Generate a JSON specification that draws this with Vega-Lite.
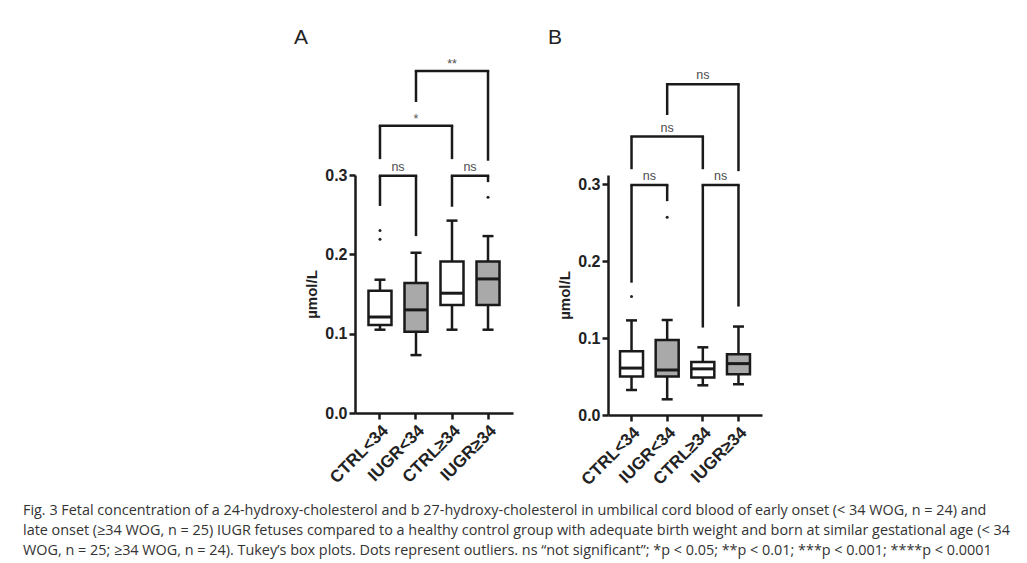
{
  "$schema": "https://vega.github.io/schema/vega-lite/v6.json",
  "padding": {"left": 23, "top": 27, "right": 5, "bottom": 2},
  "background": "white",
  "datasets": {
    "boxes": [
      {"panel": "A", "group": "CTRL<34", "type": "CTRL", "lower": 0.105, "q1": 0.111, "median": 0.121, "q3": 0.154, "upper": 0.168},
      {"panel": "A", "group": "IUGR<34", "type": "IUGR", "lower": 0.073, "q1": 0.1025, "median": 0.130, "q3": 0.164, "upper": 0.202},
      {"panel": "A", "group": "CTRL≥34", "type": "CTRL", "lower": 0.105, "q1": 0.136, "median": 0.151, "q3": 0.191, "upper": 0.2425},
      {"panel": "A", "group": "IUGR≥34", "type": "IUGR", "lower": 0.105, "q1": 0.136, "median": 0.169, "q3": 0.191, "upper": 0.223},
      {"panel": "B", "group": "CTRL<34", "type": "CTRL", "lower": 0.0325, "q1": 0.050, "median": 0.061, "q3": 0.083, "upper": 0.123},
      {"panel": "B", "group": "IUGR<34", "type": "IUGR", "lower": 0.0204, "q1": 0.050, "median": 0.0585, "q3": 0.0975, "upper": 0.1235},
      {"panel": "B", "group": "CTRL≥34", "type": "CTRL", "lower": 0.0386, "q1": 0.0486, "median": 0.060, "q3": 0.069, "upper": 0.088},
      {"panel": "B", "group": "IUGR≥34", "type": "IUGR", "lower": 0.040, "q1": 0.053, "median": 0.0668, "q3": 0.079, "upper": 0.115}
    ],
    "outliers": [
      {"panel": "A", "group": "CTRL<34", "value": 0.230},
      {"panel": "A", "group": "CTRL<34", "value": 0.219},
      {"panel": "A", "group": "IUGR≥34", "value": 0.272},
      {"panel": "B", "group": "CTRL<34", "value": 0.154},
      {"panel": "B", "group": "IUGR<34", "value": 0.257}
    ],
    "brackets": [
      {"panel": "A", "from": "CTRL<34", "to": "IUGR<34", "top": 0.299, "leftEnd": 0.261, "rightEnd": 0.223, "label": "ns", "mid": null},
      {"panel": "A", "from": "CTRL≥34", "to": "IUGR≥34", "top": 0.299, "leftEnd": 0.260, "rightEnd": 0.291, "label": "ns", "mid": null},
      {"panel": "A", "from": "CTRL<34", "to": "CTRL≥34", "top": 0.362, "leftEnd": 0.320, "rightEnd": 0.320, "label": "*", "mid": "IUGR<34"},
      {"panel": "A", "from": "IUGR<34", "to": "IUGR≥34", "top": 0.431, "leftEnd": 0.392, "rightEnd": 0.318, "label": "**", "mid": "CTRL≥34"},
      {"panel": "B", "from": "CTRL<34", "to": "IUGR<34", "top": 0.299, "leftEnd": 0.172, "rightEnd": 0.278, "label": "ns", "mid": null},
      {"panel": "B", "from": "CTRL≥34", "to": "IUGR≥34", "top": 0.299, "leftEnd": 0.1137, "rightEnd": 0.141, "label": "ns", "mid": null},
      {"panel": "B", "from": "CTRL<34", "to": "CTRL≥34", "top": 0.362, "leftEnd": 0.3195, "rightEnd": 0.3195, "label": "ns", "mid": "IUGR<34"},
      {"panel": "B", "from": "IUGR<34", "to": "IUGR≥34", "top": 0.430, "leftEnd": 0.390, "rightEnd": 0.317, "label": "ns", "mid": "CTRL≥34"}
    ]
  },
  "title": {
    "text": [
      "Fig. 3 Fetal concentration of a 24-hydroxy-cholesterol and b 27-hydroxy-cholesterol in umbilical cord blood of early onset (< 34 WOG, n = 24) and",
      "late onset (≥34 WOG, n = 25) IUGR fetuses compared to a healthy control group with adequate birth weight and born at similar gestational age (< 34",
      "WOG, n = 25; ≥34 WOG, n = 24). Tukey’s box plots. Dots represent outliers. ns “not significant”; *p < 0.05; **p < 0.01; ***p < 0.001; ****p < 0.0001"
    ],
    "orient": "bottom",
    "anchor": "start",
    "frame": "bounds",
    "dx": -271,
    "offset": 16,
    "font": "Open Sans",
    "fontSize": 14.4,
    "fontWeight": "normal",
    "lineHeight": 20,
    "color": "#333333"
  },
  "spacing": 35,
  "hconcat": [
    {
      "width": 158,
      "height": 238,
      "title": {"text": "A", "anchor": "start", "frame": "group", "dx": -61, "offset": 10},
      "layer": [
        {
          "data": {"name": "boxes"},
          "transform": [{"filter": "datum.panel === 'A'"}],
          "mark": {"type": "rule", "color": "#1a1a1a", "strokeWidth": 2.5},
          "encoding": {
            "x": {"field": "group", "type": "nominal", "title": null, "scale": {"type": "band", "domain": ["CTRL<34", "IUGR<34", "CTRL≥34", "IUGR≥34"], "paddingInner": 0, "paddingOuter": 0.194}},
            "y": {"field": "lower", "type": "quantitative", "title": "µmol/L", "scale": {"domain": [0, 0.3], "nice": false}, "axis": {"values": [0, 0.1, 0.2, 0.3], "format": ".1f"}},
            "y2": {"field": "upper"}
          }
        },
        {
          "data": {"name": "boxes"},
          "transform": [{"filter": "datum.panel === 'A'"}, {"fold": ["lower", "upper"], "as": ["end", "cap"]}],
          "mark": {"type": "tick", "color": "#1a1a1a", "opacity": 1, "size": 11, "thickness": 2.5},
          "encoding": {
            "x": {"field": "group", "type": "nominal", "title": null, "scale": {"type": "band", "domain": ["CTRL<34", "IUGR<34", "CTRL≥34", "IUGR≥34"], "paddingInner": 0, "paddingOuter": 0.194}},
            "y": {"field": "cap", "type": "quantitative", "title": "µmol/L", "scale": {"domain": [0, 0.3], "nice": false}, "axis": {"values": [0, 0.1, 0.2, 0.3], "format": ".1f"}}
          }
        },
        {
          "data": {"name": "boxes"},
          "transform": [{"filter": "datum.panel === 'A'"}],
          "mark": {"type": "bar", "width": 23, "stroke": "#1a1a1a", "strokeWidth": 2.5, "opacity": 1},
          "encoding": {
            "x": {"field": "group", "type": "nominal", "title": null, "scale": {"type": "band", "domain": ["CTRL<34", "IUGR<34", "CTRL≥34", "IUGR≥34"], "paddingInner": 0, "paddingOuter": 0.194}},
            "y": {"field": "q1", "type": "quantitative", "title": "µmol/L", "scale": {"domain": [0, 0.3], "nice": false}, "axis": {"values": [0, 0.1, 0.2, 0.3], "format": ".1f"}},
            "y2": {"field": "q3"},
            "fill": {"field": "type", "type": "nominal", "scale": {"domain": ["CTRL", "IUGR"], "range": ["#ffffff", "#a9a9a9"]}, "legend": null}
          }
        },
        {
          "data": {"name": "boxes"},
          "transform": [{"filter": "datum.panel === 'A'"}],
          "mark": {"type": "tick", "color": "#1a1a1a", "opacity": 1, "size": 23, "thickness": 3},
          "encoding": {
            "x": {"field": "group", "type": "nominal", "title": null, "scale": {"type": "band", "domain": ["CTRL<34", "IUGR<34", "CTRL≥34", "IUGR≥34"], "paddingInner": 0, "paddingOuter": 0.194}},
            "y": {"field": "median", "type": "quantitative", "title": "µmol/L", "scale": {"domain": [0, 0.3], "nice": false}, "axis": {"values": [0, 0.1, 0.2, 0.3], "format": ".1f"}}
          }
        },
        {
          "data": {"name": "outliers"},
          "transform": [{"filter": "datum.panel === 'A'"}],
          "mark": {"type": "point", "filled": true, "size": 9, "color": "#222222", "opacity": 1},
          "encoding": {
            "x": {"field": "group", "type": "nominal", "title": null, "scale": {"type": "band", "domain": ["CTRL<34", "IUGR<34", "CTRL≥34", "IUGR≥34"], "paddingInner": 0, "paddingOuter": 0.194}},
            "y": {"field": "value", "type": "quantitative", "title": "µmol/L", "scale": {"domain": [0, 0.3], "nice": false}, "axis": {"values": [0, 0.1, 0.2, 0.3], "format": ".1f"}}
          }
        },
        {
          "data": {"name": "brackets"},
          "transform": [{"filter": "datum.panel === 'A'"}],
          "mark": {"type": "rule", "color": "#1a1a1a", "strokeWidth": 2.5, "strokeCap": "square"},
          "encoding": {
            "x": {"field": "from", "type": "nominal", "title": null, "scale": {"type": "band", "domain": ["CTRL<34", "IUGR<34", "CTRL≥34", "IUGR≥34"], "paddingInner": 0, "paddingOuter": 0.194}},
            "x2": {"field": "to"},
            "y": {"field": "top", "type": "quantitative", "title": "µmol/L", "scale": {"domain": [0, 0.3], "nice": false}, "axis": {"values": [0, 0.1, 0.2, 0.3], "format": ".1f"}}
          }
        },
        {
          "data": {"name": "brackets"},
          "transform": [{"filter": "datum.panel === 'A'"}],
          "mark": {"type": "rule", "color": "#1a1a1a", "strokeWidth": 2.5},
          "encoding": {
            "x": {"field": "from", "type": "nominal", "title": null, "scale": {"type": "band", "domain": ["CTRL<34", "IUGR<34", "CTRL≥34", "IUGR≥34"], "paddingInner": 0, "paddingOuter": 0.194}},
            "y": {"field": "leftEnd", "type": "quantitative", "title": "µmol/L", "scale": {"domain": [0, 0.3], "nice": false}, "axis": {"values": [0, 0.1, 0.2, 0.3], "format": ".1f"}},
            "y2": {"field": "top"}
          }
        },
        {
          "data": {"name": "brackets"},
          "transform": [{"filter": "datum.panel === 'A'"}],
          "mark": {"type": "rule", "color": "#1a1a1a", "strokeWidth": 2.5},
          "encoding": {
            "x": {"field": "to", "type": "nominal", "title": null, "scale": {"type": "band", "domain": ["CTRL<34", "IUGR<34", "CTRL≥34", "IUGR≥34"], "paddingInner": 0, "paddingOuter": 0.194}},
            "y": {"field": "rightEnd", "type": "quantitative", "title": "µmol/L", "scale": {"domain": [0, 0.3], "nice": false}, "axis": {"values": [0, 0.1, 0.2, 0.3], "format": ".1f"}},
            "y2": {"field": "top"}
          }
        },
        {
          "data": {"name": "brackets"},
          "transform": [{"filter": "datum.panel === 'A' && datum.mid === null"}],
          "mark": {"type": "text", "font": "Liberation Sans", "fontSize": 12.5, "fill": "#4d4d4d", "baseline": "alphabetic", "dy": -5},
          "encoding": {
            "x": {"field": "from", "type": "nominal", "bandPosition": 1, "title": null, "scale": {"type": "band", "domain": ["CTRL<34", "IUGR<34", "CTRL≥34", "IUGR≥34"], "paddingInner": 0, "paddingOuter": 0.194}},
            "y": {"field": "top", "type": "quantitative", "title": "µmol/L", "scale": {"domain": [0, 0.3], "nice": false}, "axis": {"values": [0, 0.1, 0.2, 0.3], "format": ".1f"}},
            "text": {"field": "label"}
          }
        },
        {
          "data": {"name": "brackets"},
          "transform": [{"filter": "datum.panel === 'A' && datum.mid !== null"}],
          "mark": {"type": "text", "font": "Liberation Sans", "fontSize": 12.5, "fill": "#4d4d4d", "baseline": "alphabetic", "dy": -3},
          "encoding": {
            "x": {"field": "mid", "type": "nominal", "title": null, "scale": {"type": "band", "domain": ["CTRL<34", "IUGR<34", "CTRL≥34", "IUGR≥34"], "paddingInner": 0, "paddingOuter": 0.194}},
            "y": {"field": "top", "type": "quantitative", "title": "µmol/L", "scale": {"domain": [0, 0.3], "nice": false}, "axis": {"values": [0, 0.1, 0.2, 0.3], "format": ".1f"}},
            "text": {"field": "label"}
          }
        }
      ]
    },
    {
      "width": 154,
      "height": 240,
      "title": {"text": "B", "anchor": "start", "frame": "group", "dx": -60, "offset": 21},
      "layer": [
        {
          "data": {"name": "boxes"},
          "transform": [{"filter": "datum.panel === 'B'"}],
          "mark": {"type": "rule", "color": "#1a1a1a", "strokeWidth": 2.5},
          "encoding": {
            "x": {"field": "group", "type": "nominal", "title": null, "scale": {"type": "band", "domain": ["CTRL<34", "IUGR<34", "CTRL≥34", "IUGR≥34"], "paddingInner": 0, "paddingOuter": 0.16}},
            "y": {"field": "lower", "type": "quantitative", "title": "µmol/L", "scale": {"domain": [0, 0.312], "nice": false}, "axis": {"values": [0, 0.1, 0.2, 0.3], "format": ".1f"}},
            "y2": {"field": "upper"}
          }
        },
        {
          "data": {"name": "boxes"},
          "transform": [{"filter": "datum.panel === 'B'"}, {"fold": ["lower", "upper"], "as": ["end", "cap"]}],
          "mark": {"type": "tick", "color": "#1a1a1a", "opacity": 1, "size": 11, "thickness": 2.5},
          "encoding": {
            "x": {"field": "group", "type": "nominal", "title": null, "scale": {"type": "band", "domain": ["CTRL<34", "IUGR<34", "CTRL≥34", "IUGR≥34"], "paddingInner": 0, "paddingOuter": 0.16}},
            "y": {"field": "cap", "type": "quantitative", "title": "µmol/L", "scale": {"domain": [0, 0.312], "nice": false}, "axis": {"values": [0, 0.1, 0.2, 0.3], "format": ".1f"}}
          }
        },
        {
          "data": {"name": "boxes"},
          "transform": [{"filter": "datum.panel === 'B'"}],
          "mark": {"type": "bar", "width": 23, "stroke": "#1a1a1a", "strokeWidth": 2.5, "opacity": 1},
          "encoding": {
            "x": {"field": "group", "type": "nominal", "title": null, "scale": {"type": "band", "domain": ["CTRL<34", "IUGR<34", "CTRL≥34", "IUGR≥34"], "paddingInner": 0, "paddingOuter": 0.16}},
            "y": {"field": "q1", "type": "quantitative", "title": "µmol/L", "scale": {"domain": [0, 0.312], "nice": false}, "axis": {"values": [0, 0.1, 0.2, 0.3], "format": ".1f"}},
            "y2": {"field": "q3"},
            "fill": {"field": "type", "type": "nominal", "scale": {"domain": ["CTRL", "IUGR"], "range": ["#ffffff", "#a9a9a9"]}, "legend": null}
          }
        },
        {
          "data": {"name": "boxes"},
          "transform": [{"filter": "datum.panel === 'B'"}],
          "mark": {"type": "tick", "color": "#1a1a1a", "opacity": 1, "size": 23, "thickness": 3},
          "encoding": {
            "x": {"field": "group", "type": "nominal", "title": null, "scale": {"type": "band", "domain": ["CTRL<34", "IUGR<34", "CTRL≥34", "IUGR≥34"], "paddingInner": 0, "paddingOuter": 0.16}},
            "y": {"field": "median", "type": "quantitative", "title": "µmol/L", "scale": {"domain": [0, 0.312], "nice": false}, "axis": {"values": [0, 0.1, 0.2, 0.3], "format": ".1f"}}
          }
        },
        {
          "data": {"name": "outliers"},
          "transform": [{"filter": "datum.panel === 'B'"}],
          "mark": {"type": "point", "filled": true, "size": 9, "color": "#222222", "opacity": 1},
          "encoding": {
            "x": {"field": "group", "type": "nominal", "title": null, "scale": {"type": "band", "domain": ["CTRL<34", "IUGR<34", "CTRL≥34", "IUGR≥34"], "paddingInner": 0, "paddingOuter": 0.16}},
            "y": {"field": "value", "type": "quantitative", "title": "µmol/L", "scale": {"domain": [0, 0.312], "nice": false}, "axis": {"values": [0, 0.1, 0.2, 0.3], "format": ".1f"}}
          }
        },
        {
          "data": {"name": "brackets"},
          "transform": [{"filter": "datum.panel === 'B'"}],
          "mark": {"type": "rule", "color": "#1a1a1a", "strokeWidth": 2.5, "strokeCap": "square"},
          "encoding": {
            "x": {"field": "from", "type": "nominal", "title": null, "scale": {"type": "band", "domain": ["CTRL<34", "IUGR<34", "CTRL≥34", "IUGR≥34"], "paddingInner": 0, "paddingOuter": 0.16}},
            "x2": {"field": "to"},
            "y": {"field": "top", "type": "quantitative", "title": "µmol/L", "scale": {"domain": [0, 0.312], "nice": false}, "axis": {"values": [0, 0.1, 0.2, 0.3], "format": ".1f"}}
          }
        },
        {
          "data": {"name": "brackets"},
          "transform": [{"filter": "datum.panel === 'B'"}],
          "mark": {"type": "rule", "color": "#1a1a1a", "strokeWidth": 2.5},
          "encoding": {
            "x": {"field": "from", "type": "nominal", "title": null, "scale": {"type": "band", "domain": ["CTRL<34", "IUGR<34", "CTRL≥34", "IUGR≥34"], "paddingInner": 0, "paddingOuter": 0.16}},
            "y": {"field": "leftEnd", "type": "quantitative", "title": "µmol/L", "scale": {"domain": [0, 0.312], "nice": false}, "axis": {"values": [0, 0.1, 0.2, 0.3], "format": ".1f"}},
            "y2": {"field": "top"}
          }
        },
        {
          "data": {"name": "brackets"},
          "transform": [{"filter": "datum.panel === 'B'"}],
          "mark": {"type": "rule", "color": "#1a1a1a", "strokeWidth": 2.5},
          "encoding": {
            "x": {"field": "to", "type": "nominal", "title": null, "scale": {"type": "band", "domain": ["CTRL<34", "IUGR<34", "CTRL≥34", "IUGR≥34"], "paddingInner": 0, "paddingOuter": 0.16}},
            "y": {"field": "rightEnd", "type": "quantitative", "title": "µmol/L", "scale": {"domain": [0, 0.312], "nice": false}, "axis": {"values": [0, 0.1, 0.2, 0.3], "format": ".1f"}},
            "y2": {"field": "top"}
          }
        },
        {
          "data": {"name": "brackets"},
          "transform": [{"filter": "datum.panel === 'B' && datum.mid === null"}],
          "mark": {"type": "text", "font": "Liberation Sans", "fontSize": 12.5, "fill": "#4d4d4d", "baseline": "alphabetic", "dy": -5},
          "encoding": {
            "x": {"field": "from", "type": "nominal", "bandPosition": 1, "title": null, "scale": {"type": "band", "domain": ["CTRL<34", "IUGR<34", "CTRL≥34", "IUGR≥34"], "paddingInner": 0, "paddingOuter": 0.16}},
            "y": {"field": "top", "type": "quantitative", "title": "µmol/L", "scale": {"domain": [0, 0.312], "nice": false}, "axis": {"values": [0, 0.1, 0.2, 0.3], "format": ".1f"}},
            "text": {"field": "label"}
          }
        },
        {
          "data": {"name": "brackets"},
          "transform": [{"filter": "datum.panel === 'B' && datum.mid !== null"}],
          "mark": {"type": "text", "font": "Liberation Sans", "fontSize": 12.5, "fill": "#4d4d4d", "baseline": "alphabetic", "dy": -5},
          "encoding": {
            "x": {"field": "mid", "type": "nominal", "title": null, "scale": {"type": "band", "domain": ["CTRL<34", "IUGR<34", "CTRL≥34", "IUGR≥34"], "paddingInner": 0, "paddingOuter": 0.16}},
            "y": {"field": "top", "type": "quantitative", "title": "µmol/L", "scale": {"domain": [0, 0.312], "nice": false}, "axis": {"values": [0, 0.1, 0.2, 0.3], "format": ".1f"}},
            "text": {"field": "label"}
          }
        }
      ]
    }
  ],
  "config": {
    "view": {"stroke": null},
    "title": {"font": "Liberation Sans", "fontSize": 21, "fontWeight": "normal", "color": "#222222"},
    "axis": {
      "grid": false,
      "domainColor": "#1a1a1a",
      "domainWidth": 2.5,
      "tickColor": "#1a1a1a",
      "tickWidth": 2.5,
      "tickSize": 6,
      "labelFont": "Liberation Sans",
      "labelFontWeight": "bold",
      "labelFontSize": 16,
      "labelColor": "#222222",
      "titleFont": "Liberation Sans",
      "titleFontWeight": "bold",
      "titleFontSize": 15,
      "titleColor": "#222222"
    },
    "axisX": {"labelAngle": -45, "labelPadding": 3, "labelFontSize": 17},
    "axisY": {"labelPadding": 2, "titlePadding": 5}
  }
}
